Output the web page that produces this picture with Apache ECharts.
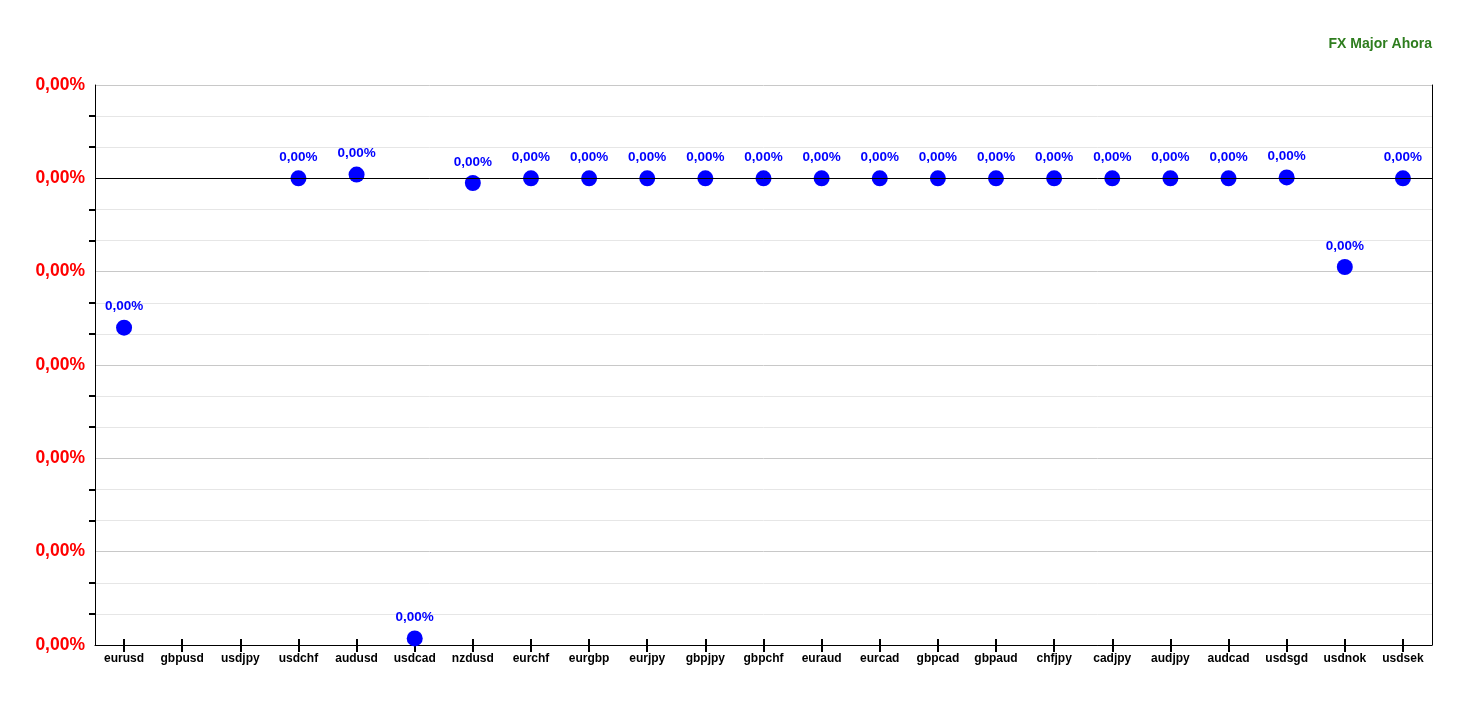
<!DOCTYPE html>
<html><head><meta charset="utf-8">
<script src="https://cdn.jsdelivr.net/npm/echarts@6/dist/echarts.min.js"></script>
<style>html,body{margin:0;padding:0;background:#fff}#c{width:1468px;height:707px}</style>
</head><body><div id="c"></div>
<script>
const categories = ['eurusd','gbpusd','usdjpy','usdchf','audusd','usdcad','nzdusd','eurchf','eurgbp','eurjpy','gbpjpy','gbpchf','euraud','eurcad','gbpcad','gbpaud','chfjpy','cadjpy','audjpy','audcad','usdsgd','usdnok','usdsek'];
// change in percent (all round to 0,00%)
const values = [-0.0016, null, null, 0, 0.00004, -0.00493, -0.00005, 0, 0, 0, 0, 0, 0, 0, 0, 0, 0, 0, 0, 0, 0.00001, -0.00095, 0];
const yMin = -0.005, yMax = 0.001, yStep = 0.001;
const titleText = 'FX Major Ahora';

function fmt(v){
  const r = Math.round(v*100)/100 + 0;
  return r.toFixed(2).replace('.', ',') + '%';
}
const font = 'Liberation Sans, Arial, sans-serif';
const chart = echarts.init(document.getElementById('c'), null, {renderer:'canvas'});
chart.setOption({
  animation:false,
  title:{text:titleText,right:31,top:32,textStyle:{color:'#2e7d1e',fontSize:14,fontWeight:'bold',fontFamily:font}},
  grid:{left:95,right:36,top:85,bottom:62,containLabel:false},
  xAxis:[{
    type:'category',data:categories,position:'bottom',
    axisLine:{onZero:false,lineStyle:{color:'#000',width:1}},
    axisTick:{show:true,alignWithLabel:true,length:7,lineStyle:{color:'#000',width:2}},
    axisLabel:{color:'#000',fontSize:12,fontWeight:'bold',fontFamily:font,margin:8,interval:0},
    splitLine:{show:false}
  },{
    type:'category',data:categories,position:'bottom',
    axisLine:{show:false,onZero:false},
    axisTick:{show:true,inside:true,alignWithLabel:true,length:6,lineStyle:{color:'#000',width:2}},
    axisLabel:{show:false},splitLine:{show:false}
  }],
  yAxis:[{
    type:'value',min:yMin,max:yMax,interval:yStep,position:'left',
    axisLine:{show:true,lineStyle:{color:'#000',width:1}},
    axisTick:{show:false},
    minorTick:{show:true,splitNumber:3,length:6,lineStyle:{color:'#000',width:2}},
    splitLine:{show:true,lineStyle:{color:'#c8c8c8',width:1}},
    minorSplitLine:{show:true,lineStyle:{color:'#e6e6e6',width:1}},
    axisLabel:{color:'#ff0000',fontSize:17.5,fontWeight:'bold',fontFamily:font,margin:10,formatter:fmt,verticalAlign:'middle',padding:[5,0,0,0]}
  },{
    type:'value',min:yMin,max:yMax,interval:yStep,position:'right',
    axisLine:{show:true,lineStyle:{color:'#000',width:1}},
    axisTick:{show:false},axisLabel:{show:false},splitLine:{show:false}
  }],
  series:[{
    type:'scatter',data:values,symbolSize:16,xAxisIndex:0,yAxisIndex:0,
    itemStyle:{color:'#0000ff',opacity:1},
    label:{show:true,position:'top',distance:6,color:'#0000ff',fontSize:13.5,fontWeight:'bold',fontFamily:font,
      formatter:p=>fmt(p.value)},
    markLine:{silent:true,symbol:'none',label:{show:false},lineStyle:{color:'#000',width:1,type:'solid'},
      data:[{yAxis:0}]}
  }]
});
</script></body></html>
